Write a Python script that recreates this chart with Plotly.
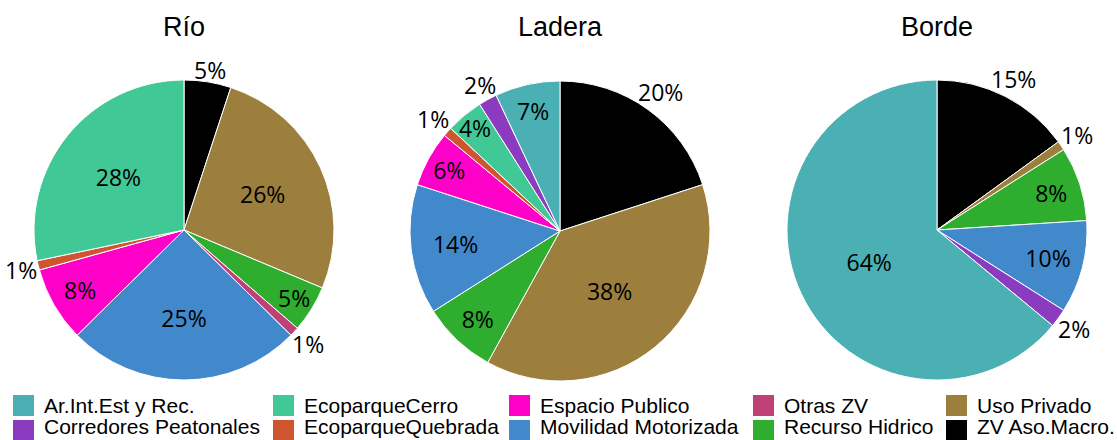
import math
import plotly.graph_objects as go

# Categories (shared across the three zones) and their colours
categories = [
    "Ar.Int.Est y Rec.", "Corredores Peatonales", "EcoparqueCerro",
    "EcoparqueQuebrada", "Espacio Publico", "Movilidad Motorizada",
    "Otras ZV", "Recurso Hidrico", "Uso Privado", "ZV Aso.Macro.",
]
colors = [
    "#4AB0B4", "#8B3BC0", "#40C896", "#CF5530", "#FF00C8",
    "#4289CC", "#C04078", "#2EAD2E", "#9C7F3C", "#000000",
]

# Share of each category (%) per zone
rio = [0, 0, 28, 1, 8, 25, 1, 5, 26, 5]
ladera = [7, 2, 4, 1, 6, 14, 0, 8, 38, 20]
borde = [64, 2, 0, 0, 0, 10, 0, 8, 1, 15]

zones = ["Río", "Ladera", "Borde"]
zone_values = [rio, ladera, borde]

W, H = 1117, 440


def px(x):
    return x / W


def py(y):
    return 1 - y / H


# pie centres (px) and radius
centres = [(184, 230), (560, 231), (937, 230)]
radius = 150
PCT_FONT = dict(family="Open Sans", size=23, color="black")

fig = go.Figure()

for (cx, cy), name, vals in zip(centres, zones, zone_values):
    # slices run clockwise from 12 o'clock, last category first
    keep = [i for i in range(len(categories)) if vals[i] > 0][::-1]
    labs = [categories[i] for i in keep]
    cols = [colors[i] for i in keep]
    vv = [vals[i] for i in keep]
    outside = [v <= 2 or lab == "ZV Aso.Macro." for lab, v in zip(labs, vv)]
    fig.add_trace(go.Pie(
        labels=labs, values=vv, sort=False, direction="clockwise",
        marker=dict(colors=cols, line=dict(color="white", width=1)),
        texttemplate="%{percent:.0%}",
        textposition=["none" if o else "inside" for o in outside],
        insidetextorientation="horizontal",
        textfont=PCT_FONT, insidetextfont=PCT_FONT,
        domain=dict(x=[px(cx - radius), px(cx + radius)],
                    y=[py(cy + radius), py(cy - radius)]),
        showlegend=False, hoverinfo="label+percent",
    ))

    # labels of the thin / outer slices sit just beyond the rim
    total = sum(vv)
    start = 0.0
    for v, o in zip(vv, outside):
        sweep = 360.0 * v / total
        if o:
            txt = f"{round(100 * v / total)}%"
            theta = math.radians(start + sweep / 2)
            w = (0.572 * (len(txt) - 1) + 0.824) * PCT_FONT["size"]
            h = 20
            d = radius + abs(math.sin(theta)) * w / 2 + abs(math.cos(theta)) * h / 2
            fig.add_annotation(
                x=px(cx + d * math.sin(theta)), y=py(cy - d * math.cos(theta)),
                xref="paper", yref="paper", text=txt, showarrow=False,
                xanchor="center", yanchor="middle", font=PCT_FONT,
            )
        start += sweep

    fig.add_annotation(
        x=px(cx), y=py(27), xref="paper", yref="paper", text=name,
        showarrow=False, xanchor="center", yanchor="middle",
        font=dict(family="Liberation Sans", size=27, color="black"),
    )

# Legend: five columns, filled top-to-bottom
col_x = [13, 273, 509, 753, 946]
sw = 21
swatch_top = [395, 420]
shapes = []
for i, (cat, col) in enumerate(zip(categories, colors)):
    c, r = divmod(i, 2)
    x0, y0 = col_x[c], swatch_top[r]
    shapes.append(dict(
        type="rect", xref="paper", yref="paper",
        x0=px(x0), x1=px(x0 + sw),
        y0=py(min(y0 + sw, H)), y1=py(y0),
        fillcolor=col, line=dict(width=0),
    ))
    if r == 0:
        ty, anchor = py(y0 + sw / 2), "middle"
    else:
        ty, anchor = 0, "bottom"
    fig.add_annotation(
        x=px(x0 + sw + 8), y=ty, xref="paper", yref="paper",
        text=cat, showarrow=False, xanchor="left", yanchor=anchor,
        font=dict(family="Liberation Sans", size=21, color="black"),
    )

fig.update_layout(
    width=W, height=H, margin=dict(l=0, r=0, t=0, b=0),
    paper_bgcolor="white", plot_bgcolor="white", shapes=shapes,
    uniformtext=dict(minsize=23, mode="show"),
)

fig.write_html("out.html")
